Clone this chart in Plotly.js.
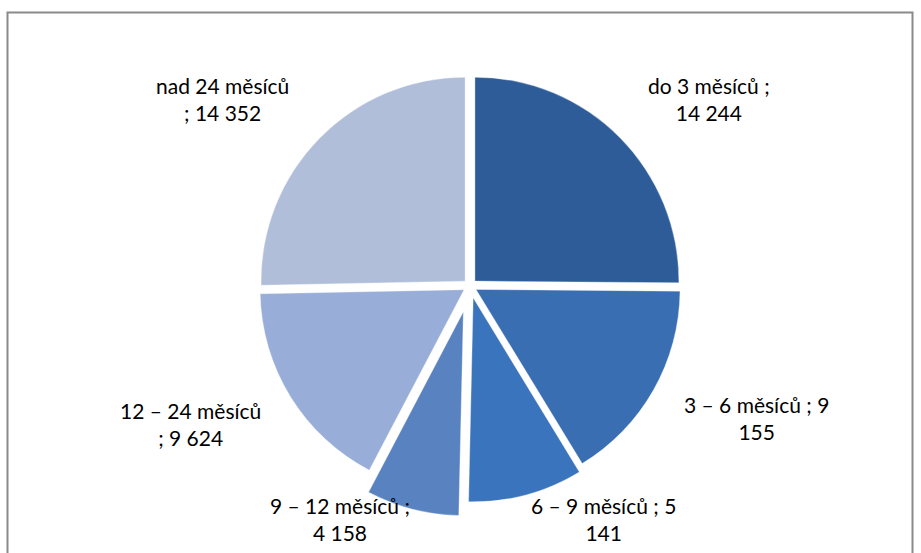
<!DOCTYPE html>
<html>
<head>
<meta charset="utf-8">
<script src="https://cdn.plot.ly/plotly-3.0.1.min.js"></script>
<style>
html,body{margin:0;padding:0;background:#fff;}
#chart{width:921px;height:553px;}
</style>
</head>
<body>
<div id="chart"></div>
<script>
// Data
const categories = ["do 3 měsíců", "3 – 6 měsíců", "6 – 9 měsíců", "9 – 12 měsíců", "12 – 24 měsíců", "nad 24 měsíců"];
const values = [14244, 9155, 5141, 4158, 9624, 14352];
// number of words placed on the first line of each wrapped label
const firstLineWords = [4, 6, 6, 5, 4, 3];

// Styles
const colors = ["#2D5C98", "#3A6EB3", "#3A74BC", "#5982C0", "#98AED8", "#B0BEDA"];
const pulls = [0.034, 0.034, 0.06, 0.13, 0.034, 0.034];
// label anchor positions in pixels (centre of text block)
const labelPos = [[709, 99], [756, 418], [603, 519], [340, 519], [190, 424], [222, 99]];

const W = 921, H = 553;

function fmt(v) {
  return String(v).replace(/\B(?=(\d{3})+(?!\d))/g, " ");
}

const annotations = categories.map((c, i) => {
  const words = (c + " ; " + fmt(values[i])).split(" ");
  const n = firstLineWords[i];
  const txt = words.slice(0, n).join(" ") + "<br>" + words.slice(n).join(" ");
  return {
    text: txt,
    x: labelPos[i][0] / W,
    y: 1 - labelPos[i][1] / H,
    xref: "paper", yref: "paper",
    xanchor: "center", yanchor: "middle",
    align: "center",
    showarrow: false,
    font: {family: "Lato, 'Open Sans', sans-serif", size: 21, color: "#000"}
  };
});

const trace = {
  type: "pie",
  labels: categories,
  values: values,
  sort: false,
  direction: "clockwise",
  rotation: 0,
  pull: pulls,
  marker: {colors: colors, line: {color: "rgba(255,255,255,0.35)", width: 1}},
  textinfo: "none",
  hoverinfo: "label+value",
  showlegend: false,
  domain: {x: [239.5 / W, 700.5 / W], y: [1 - 516.5 / H, 1 - 55.5 / H]}
};

const layout = {
  width: W, height: H,
  margin: {l: 0, r: 0, t: 0, b: 0},
  paper_bgcolor: "#ffffff",
  showlegend: false,
  annotations: annotations,
  shapes: [{
    type: "rect", xref: "paper", yref: "paper",
    x0: 7.5 / W, x1: 912.5 / W, y0: -0.05, y1: 1 - 12.5 / H,
    line: {color: "#8a8a8a", width: 2}
  }]
};

Plotly.newPlot("chart", [trace], layout, {displayModeBar: false, staticPlot: true});
</script>
</body>
</html>
